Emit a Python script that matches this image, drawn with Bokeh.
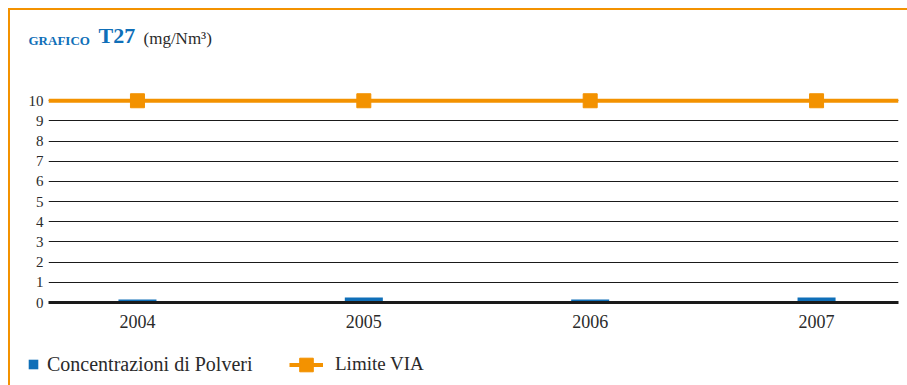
from bokeh.plotting import figure
from bokeh.models import (ColumnDataSource, FixedTicker, Label, Legend, LegendItem,
                          Range1d)
from bokeh.layouts import column, row
from bokeh.embed import file_html
from bokeh.resources import INLINE

# ---- data ----
years = [2004, 2005, 2006, 2007]
year_labels = ["2004", "2005", "2006", "2007"]
polveri = [0.15, 0.25, 0.15, 0.25]      # Concentrazioni di Polveri (mg/Nm3)
limite = [10, 10, 10, 10]               # Limite VIA
y_ticks = [0, 1, 2, 3, 4, 5, 6, 7, 8, 9, 10]

BLUE = "#0f6fb8"
ORANGE = "#f39200"
TEXT = "#2a2a2a"
SERIF = "Liberation Serif"
W = 897

x_start, x_end = 2003.607, 2007.362


def bare(width, height):
    fig = figure(width=width, height=height, output_backend="svg",
                 toolbar_location=None, x_range=Range1d(0, 1), y_range=Range1d(0, 1),
                 x_axis_location=None, y_axis_location=None,
                 min_border=0, min_border_left=0, min_border_right=0,
                 min_border_top=0, min_border_bottom=0)
    fig.grid.visible = False
    fig.outline_line_color = None
    return fig


# ---- title strip ----
t = bare(W, 50)
t.add_layout(Label(x=18, y=13, x_units="screen", y_units="screen",
                   text="GRAFICO", text_font=SERIF, text_font_style="bold",
                   text_font_size="13px", text_color=BLUE))
t.add_layout(Label(x=88, y=13, x_units="screen", y_units="screen",
                   text="T27", text_font=SERIF, text_font_style="bold",
                   text_font_size="22px", text_color=BLUE))
t.add_layout(Label(x=133, y=13, x_units="screen", y_units="screen",
                   text="(mg/Nm³)", text_font=SERIF,
                   text_font_size="17px", text_color=TEXT))

# ---- main chart ----
p = figure(width=W, height=280, output_backend="svg", toolbar_location=None,
           x_range=Range1d(x_start, x_end), y_range=Range1d(0, 11.5),
           min_border_left=38, min_border_right=9, min_border_top=10,
           min_border_bottom=38)
p.outline_line_color = None

src = ColumnDataSource(dict(x=years, y=polveri))
p.vbar(x="x", top="y", bottom=0, width=0.168, source=src,
       fill_color=BLUE, line_color=None)

lx = [x_start] + years + [x_end]
ly = [limite[0]] + limite + [limite[-1]]
p.line(lx, ly, line_color=ORANGE, line_width=4)
p.scatter(years, limite, marker="square", size=14,
          fill_color=ORANGE, line_color=ORANGE)

p.xgrid.grid_line_color = None
p.ygrid.ticker = FixedTicker(ticks=y_ticks[1:])
p.ygrid.grid_line_color = "#1a1a1a"
p.ygrid.grid_line_width = 1

for ax in (p.xaxis, p.yaxis):
    ax.major_tick_out = 0
    ax.major_tick_in = 0
    ax.minor_tick_out = 0
    ax.minor_tick_in = 0
    ax.major_tick_line_color = None
    ax.minor_tick_line_color = None
    ax.major_label_text_font = SERIF
    ax.major_label_text_color = TEXT

p.yaxis.ticker = FixedTicker(ticks=y_ticks)
p.yaxis.axis_line_color = None
p.yaxis.major_label_standoff = 5
p.yaxis.major_label_text_font_size = "15px"

p.xaxis.ticker = FixedTicker(ticks=years)
p.xaxis.major_label_overrides = {y: l for y, l in zip(years, year_labels)}
p.xaxis.axis_line_color = "#1a1a1a"
p.xaxis.axis_line_width = 3
p.xaxis.major_label_standoff = 12
p.xaxis.major_label_text_font_size = "18px"

# ---- legend strip (key renderers fall outside its 0..1 ranges) ----
lg = bare(W, 45)
ksrc = ColumnDataSource(dict(x=years, y=polveri, lim=limite))
kb = lg.vbar(x="x", top="y", width=0.1, source=ksrc, fill_color=BLUE, line_color=None)
kl = lg.line(x="x", y="lim", source=ksrc, line_color=ORANGE, line_width=4)
km = lg.scatter(x="x", y="lim", source=ksrc, marker="square",
                fill_color=ORANGE, line_color=ORANGE)

common = dict(padding=0, margin=0, border_line_color=None, background_fill_alpha=0,
              label_text_font=SERIF, label_text_color=TEXT, inactive_fill_alpha=0)
lg.add_layout(Legend(items=[LegendItem(label="Concentrazioni di Polveri", renderers=[kb])],
                     location=(17, 9.5), glyph_width=12, glyph_height=12,
                     label_height=12, label_standoff=8, label_text_font_size="20px",
                     **common))
lg.add_layout(Legend(items=[LegendItem(label="Limite VIA", renderers=[kl, km])],
                     location=(279, 3.5), glyph_width=34, glyph_height=35,
                     label_height=35, label_standoff=12, label_text_font_size="19px",
                     **common))

page = column(row(t), row(p), row(lg), spacing=0,
              styles={"margin-left": "8px", "margin-top": "8px",
                      "border-left": "2px solid #f39200",
                      "border-top": "2px solid #f39200"})

open("out.html", "w").write(file_html(page, INLINE))
